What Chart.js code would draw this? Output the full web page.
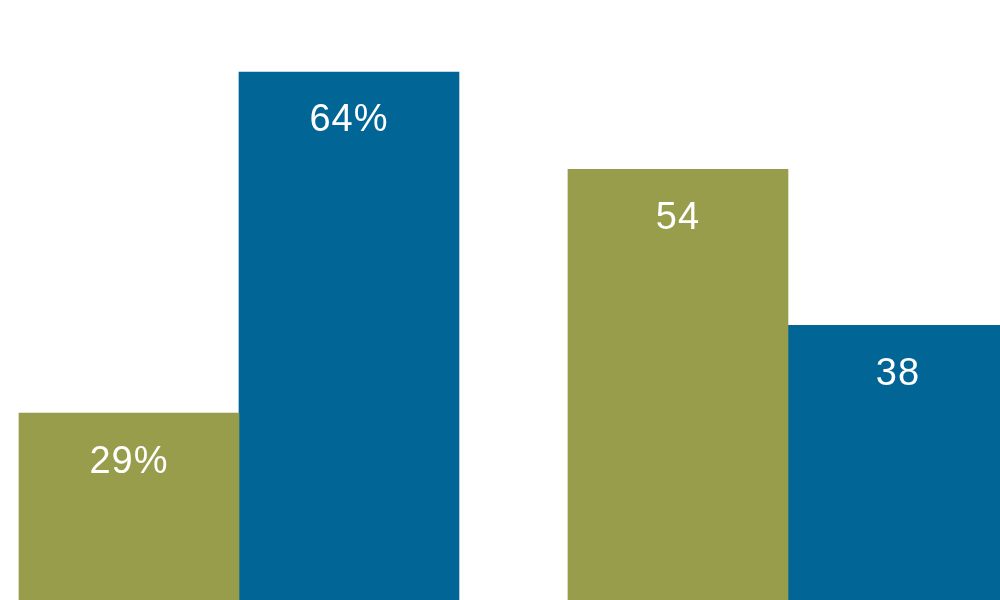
<!DOCTYPE html>
<html>
<head>
<meta charset="utf-8">
<script src="https://cdn.jsdelivr.net/npm/chart.js@4/dist/chart.umd.min.js"></script>
<style>
  html, body { margin: 0; padding: 0; background: #ffffff; }
  #wrap { width: 1000px; height: 600px; }
</style>
</head>
<body>
<div id="wrap"><canvas id="chart" width="1000" height="600"></canvas></div>
<script>
// two groups, the bottom of the bars is cut off by the frame
const groups = [0, 1];
const greenValues = [29, 54];
const blueValues = [64, 38];
const greenLabels = ['29%', '54'];
const blueLabels = ['64%', '38'];

const GREEN = '#979d4a';
const BLUE = '#016596';

function toPoints(values) {
  return values.map((v, i) => ({ x: groups[i], y: v }));
}

// white value text inside the top of each bar
const barText = {
  id: 'barText',
  afterDatasetsDraw(chart) {
    const ctx = chart.ctx;
    ctx.save();
    ctx.fillStyle = '#ffffff';
    ctx.font = '38px "Liberation Sans", Arial, sans-serif';
    ctx.letterSpacing = '1px';
    ctx.textAlign = 'center';
    ctx.textBaseline = 'middle';
    chart.data.datasets.forEach((ds, di) => {
      const meta = chart.getDatasetMeta(di);
      meta.data.forEach((bar, i) => {
        ctx.fillText(ds.texts[i], bar.x, bar.y + 49);
      });
    });
    ctx.restore();
  },
};

new Chart(document.getElementById('chart'), {
  type: 'bar',
  data: {
    datasets: [
      {
        data: toPoints(greenValues),
        texts: greenLabels,
        backgroundColor: GREEN,
        borderWidth: 0,
        barThickness: 220,
      },
      {
        data: toPoints(blueValues),
        texts: blueLabels,
        backgroundColor: BLUE,
        borderWidth: 0,
        barThickness: 220,
      },
    ],
  },
  options: {
    responsive: false,
    animation: false,
    devicePixelRatio: 1,
    layout: { padding: 0 },
    plugins: {
      legend: { display: false },
      tooltip: { enabled: false },
      title: { display: false },
    },
    scales: {
      x: {
        type: 'linear',
        display: false,
        offset: false,
        min: -0.4353,
        max: 1.3862,
      },
      y: {
        display: false,
        min: 9.81,
        max: 71.39,
      },
    },
  },
  plugins: [barText],
});
</script>
</body>
</html>
